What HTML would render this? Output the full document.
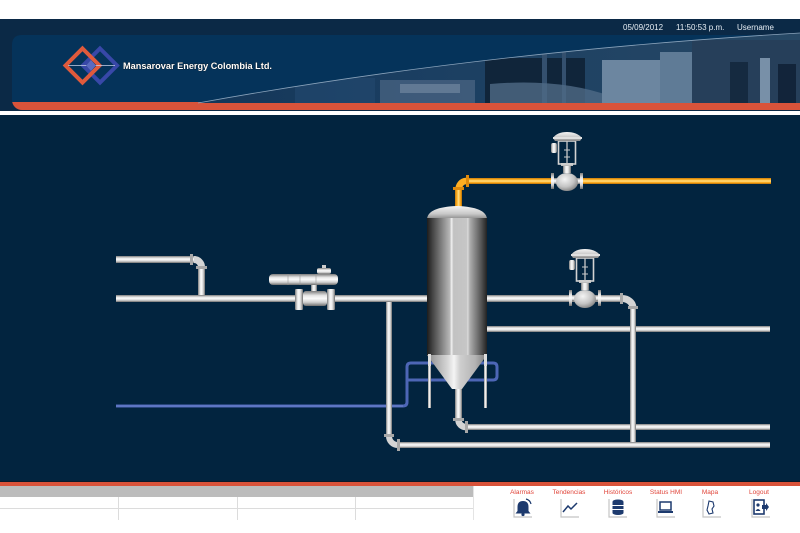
<!DOCTYPE html>
<html><head><meta charset="utf-8"><style>
html,body{margin:0;padding:0;background:#fff;width:800px;height:533px;overflow:hidden}
svg{display:block}
text{font-family:"Liberation Sans",sans-serif}
</style></head><body>
<svg width="800" height="533" viewBox="0 0 800 533" xmlns="http://www.w3.org/2000/svg">
<defs>
 <linearGradient id="hp" x1="0" y1="0" x2="0" y2="1">
  <stop offset="0" stop-color="#7c7c7c"/><stop offset="0.3" stop-color="#e6e6e6"/><stop offset="0.5" stop-color="#fbfbfb"/><stop offset="0.75" stop-color="#cfcfcf"/><stop offset="1" stop-color="#6e6e6e"/>
 </linearGradient>
 <linearGradient id="vp" x1="0" y1="0" x2="1" y2="0">
  <stop offset="0" stop-color="#7c7c7c"/><stop offset="0.3" stop-color="#e6e6e6"/><stop offset="0.5" stop-color="#fbfbfb"/><stop offset="0.75" stop-color="#cfcfcf"/><stop offset="1" stop-color="#6e6e6e"/>
 </linearGradient>
 <linearGradient id="ho" x1="0" y1="0" x2="0" y2="1">
  <stop offset="0" stop-color="#c97a08"/><stop offset="0.3" stop-color="#ffb52a"/><stop offset="0.5" stop-color="#ffe08a"/><stop offset="0.75" stop-color="#ffac1c"/><stop offset="1" stop-color="#b86e05"/>
 </linearGradient>
 <linearGradient id="vo" x1="0" y1="0" x2="1" y2="0">
  <stop offset="0" stop-color="#c97a08"/><stop offset="0.3" stop-color="#ffb52a"/><stop offset="0.5" stop-color="#ffe08a"/><stop offset="0.75" stop-color="#ffac1c"/><stop offset="1" stop-color="#b86e05"/>
 </linearGradient>
 <linearGradient id="tank" x1="0" y1="0" x2="1" y2="0">
  <stop offset="0" stop-color="#1c1c1c"/><stop offset="0.1" stop-color="#474747"/><stop offset="0.38" stop-color="#b8b8b8"/><stop offset="0.41" stop-color="#f2f2f2"/><stop offset="0.44" stop-color="#c2c2c2"/><stop offset="0.66" stop-color="#c6c6c6"/><stop offset="0.68" stop-color="#dadada"/><stop offset="0.71" stop-color="#b0b0b0"/><stop offset="0.9" stop-color="#565656"/><stop offset="1" stop-color="#222"/>
 </linearGradient>
 <linearGradient id="cone" x1="0" y1="0" x2="1" y2="0">
  <stop offset="0" stop-color="#8a8a8a"/><stop offset="0.35" stop-color="#d8d8d8"/><stop offset="0.45" stop-color="#f4f4f4"/><stop offset="0.55" stop-color="#cfcfcf"/><stop offset="0.8" stop-color="#b4b4b4"/><stop offset="1" stop-color="#7a7a7a"/>
 </linearGradient>
 <linearGradient id="dome" x1="0" y1="0" x2="0" y2="1">
  <stop offset="0" stop-color="#f4f4f4"/><stop offset="0.6" stop-color="#c8c8c8"/><stop offset="1" stop-color="#8a8a8a"/>
 </linearGradient>
 <radialGradient id="ball" cx="0.4" cy="0.35" r="0.7">
  <stop offset="0" stop-color="#f4f4f4"/><stop offset="0.6" stop-color="#c4c4c4"/><stop offset="1" stop-color="#808080"/>
 </radialGradient>
 <linearGradient id="photo" x1="0" y1="0" x2="1" y2="0">
  <stop offset="0" stop-color="#143658"/><stop offset="0.4" stop-color="#1b3f62"/><stop offset="1" stop-color="#274865"/>
 </linearGradient>
 <clipPath id="pc"><path d="M198 103 Q480 52 800 33 L800 103 Z"/></clipPath>
</defs>

<!-- header -->
<rect x="0" y="0" width="800" height="19" fill="#fff"/>
<rect x="0" y="19" width="800" height="92" fill="#0b2946"/>
<rect x="12" y="85" width="800" height="25" rx="10" fill="#d9533a"/>
<path d="M12 102 V45 Q12 35 22 35 H800 V102 Z" fill="#05335a"/>
<g clip-path="url(#pc)">
 <rect x="190" y="30" width="610" height="75" fill="url(#photo)"/>
 <rect x="380" y="80" width="95" height="23" fill="#4d6784" opacity="0.7"/>
 <rect x="400" y="84" width="60" height="9" fill="#7a8ea5" opacity="0.6"/>
 <rect x="485" y="58" width="100" height="45" fill="#10253a"/>
 <rect x="542" y="50" width="5" height="53" fill="#34506e"/>
 <rect x="562" y="48" width="4" height="55" fill="#34506e"/>
 <path d="M490 84 Q560 78 610 96 L610 103 L490 103 Z" fill="#4f6a86" opacity="0.8"/>
 <rect x="602" y="60" width="58" height="43" fill="#6c86a0"/>
 <rect x="660" y="52" width="32" height="51" fill="#5f7b96"/>
 <rect x="692" y="40" width="108" height="63" fill="#263f5a"/>
 <rect x="730" y="62" width="18" height="41" fill="#152a40"/>
 <rect x="760" y="58" width="10" height="45" fill="#7890a8"/>
 <rect x="778" y="64" width="18" height="39" fill="#12243a"/>
 <rect x="295" y="78" width="80" height="25" fill="#21466b" opacity="0.8"/>
</g>
<path d="M198 103 Q480 52 800 33" fill="none" stroke="#8aa3bb" stroke-width="0.8"/>
<text x="623" y="30" font-size="8" fill="#e6edf4">05/09/2012</text>
<text x="676" y="30" font-size="8" fill="#e6edf4">11:50:53 p.m.</text>
<text x="737" y="30" font-size="8" fill="#e6edf4">Username</text>
<!-- logo -->
<path d="M100 48.5 L117 65.5 L100 82.5 L83 65.5 Z" fill="none" stroke="#3848a8" stroke-width="4"/>
<path d="M82.5 48.5 L99.5 65.5 L82.5 82.5 L65.5 65.5 Z" fill="none" stroke="#e05a3c" stroke-width="4"/>
<line x1="68" y1="65.5" x2="115" y2="65.5" stroke="#c8d0e8" stroke-width="0.8"/>
<path d="M91 60 L96 65.5 L91 71 L86 65.5 Z" fill="#5a6ac0"/>
<text x="123" y="69" font-size="8.8" font-weight="bold" fill="#fff" stroke="#111" stroke-width="0.5" paint-order="stroke" textLength="149" lengthAdjust="spacingAndGlyphs">Mansarovar Energy Colombia Ltd.</text>

<!-- main area -->
<rect x="0" y="115" width="800" height="367" fill="#02243f"/>

<!-- blue line -->
<path d="M116 406 H403 Q407 406 407 402 V367 Q407 363 411 363 H493 Q497 363 497 367 V376 Q497 380 493 380 H408" fill="none" stroke="#4d66b6" stroke-width="3"/>
<path d="M116 406 H403" fill="none" stroke="#7a90d8" stroke-width="0.8"/>

<!-- silver pipes -->
<rect x="116" y="256" width="80" height="7" fill="url(#hp)"/>
<path d="M194 259.5 A7.5 7.5 0 0 1 201.5 267" fill="none" stroke="#d4d4d4" stroke-width="7"/>
<rect x="198" y="267" width="7" height="28" fill="url(#vp)"/>
<rect x="190" y="254" width="3" height="11" fill="#a8a8a8"/>
<rect x="196" y="266" width="11" height="3" fill="#a8a8a8"/>

<rect x="116" y="295" width="312" height="7" fill="url(#hp)"/>

<rect x="398" y="442" width="372" height="6" fill="url(#hp)"/>
<path d="M389 436 A8.5 9 0 0 0 397.5 445" fill="none" stroke="#d4d4d4" stroke-width="6"/>
<rect x="386" y="302" width="6" height="135" fill="url(#vp)"/>
<rect x="384" y="434" width="10" height="3" fill="#a8a8a8"/>
<rect x="397" y="439" width="3" height="12" fill="#a8a8a8"/>

<rect x="466" y="424" width="304" height="6" fill="url(#hp)"/>
<rect x="455" y="386" width="7" height="35" fill="url(#vp)"/>
<path d="M458.5 420 A7.5 7 0 0 0 466 427" fill="none" stroke="#d4d4d4" stroke-width="6.5"/>
<rect x="453" y="418" width="11" height="3" fill="#a8a8a8"/>
<rect x="465" y="421" width="3" height="12" fill="#a8a8a8"/>

<rect x="487" y="295" width="135" height="7" fill="url(#hp)"/>
<rect x="487" y="326" width="283" height="6" fill="url(#hp)"/>
<path d="M622 298.5 A11 9.5 0 0 1 633 308" fill="none" stroke="#d4d4d4" stroke-width="7"/>
<rect x="630" y="307" width="6" height="135" fill="url(#vp)"/>
<rect x="620" y="293" width="3" height="11" fill="#a8a8a8"/>
<rect x="628" y="306" width="10" height="3" fill="#a8a8a8"/>

<!-- orange pipe -->
<rect x="466" y="178" width="305" height="6" fill="url(#ho)"/>
<path d="M458.5 190 A7.5 9 0 0 1 466 181" fill="none" stroke="#ffae22" stroke-width="6.5"/>
<rect x="455" y="189" width="7" height="19" fill="url(#vo)"/>
<rect x="453" y="187" width="11" height="3" fill="#e08a0c"/>
<rect x="466" y="175" width="3" height="12" fill="#e08a0c"/>

<!-- tank -->
<rect x="428" y="354" width="3" height="54" fill="url(#vp)"/>
<rect x="484" y="354" width="3" height="54" fill="url(#vp)"/>
<path d="M427 219 Q428 207 457 206 Q486 207 487 219 Z" fill="url(#dome)"/>
<rect x="427" y="218" width="60" height="138" fill="url(#tank)"/>
<path d="M427 355 H487 L462 389 H452 Z" fill="url(#cone)"/>
<rect x="428" y="354" width="3" height="12" fill="#ddd"/>
<rect x="484" y="354" width="3" height="12" fill="#ddd"/>

<!-- ball valve with actuator -->
<g>
 <rect x="269" y="274" width="69" height="11" rx="4" fill="url(#hp)"/>
 <line x1="288" y1="274" x2="288" y2="285" stroke="#999" stroke-width="0.6"/>
 <line x1="300" y1="274" x2="300" y2="285" stroke="#999" stroke-width="0.6"/>
 <line x1="316" y1="274" x2="316" y2="285" stroke="#999" stroke-width="0.6"/>
 <rect x="317" y="268" width="14" height="6" rx="2" fill="url(#hp)"/>
 <rect x="322" y="265" width="4" height="3" fill="#ccc"/>
 <rect x="311" y="285" width="6" height="7" fill="url(#vp)"/>
 <rect x="303" y="291" width="24" height="15" rx="3" fill="url(#hp)"/>
 <rect x="295" y="289" width="8" height="21" rx="1" fill="url(#vp)"/>
 <rect x="327" y="289" width="8" height="21" rx="1" fill="url(#vp)"/>
</g>

<!-- control valve top -->
<g transform="translate(567,181)">
 <rect x="-16" y="-8" width="3" height="16" fill="url(#hp)"/>
 <rect x="13" y="-8" width="3" height="16" fill="url(#hp)"/>
 <rect x="-13" y="-3" width="26" height="6" fill="url(#hp)"/>
 <ellipse cx="0" cy="1" rx="11" ry="9" fill="url(#ball)"/>
 <rect x="-4" y="-16" width="8" height="8" fill="url(#vp)"/>
 <rect x="-6" y="-18" width="12" height="3" fill="#bdbdbd"/>
 <rect x="-8.5" y="-40" width="17" height="23" fill="none" stroke="#d2d2d2" stroke-width="1.6"/>
 <line x1="0" y1="-40" x2="0" y2="-17" stroke="#c8c8c8" stroke-width="1.3"/>
 <line x1="-3" y1="-31" x2="3" y2="-31" stroke="#c8c8c8" stroke-width="1"/>
 <line x1="-3" y1="-24" x2="3" y2="-24" stroke="#c8c8c8" stroke-width="1"/>
 <path d="M-14 -43 Q-10 -49 0 -49 Q10 -49 15 -43 L13 -40 H-12 Z" fill="url(#dome)"/>
 <rect x="-14" y="-44" width="29" height="2" fill="#e0e0e0"/>
 <rect x="-16" y="-38" width="6" height="10" rx="2" fill="url(#vp)"/>
</g>

<!-- control valve right -->
<g transform="translate(585,298)">
 <rect x="-16" y="-8" width="3" height="16" fill="url(#hp)"/>
 <rect x="13" y="-8" width="3" height="16" fill="url(#hp)"/>
 <rect x="-13" y="-3" width="26" height="6" fill="url(#hp)"/>
 <ellipse cx="0" cy="1" rx="11" ry="9" fill="url(#ball)"/>
 <rect x="-4" y="-16" width="8" height="8" fill="url(#vp)"/>
 <rect x="-6" y="-18" width="12" height="3" fill="#bdbdbd"/>
 <rect x="-8.5" y="-40" width="17" height="23" fill="none" stroke="#d2d2d2" stroke-width="1.6"/>
 <line x1="0" y1="-40" x2="0" y2="-17" stroke="#c8c8c8" stroke-width="1.3"/>
 <line x1="-3" y1="-31" x2="3" y2="-31" stroke="#c8c8c8" stroke-width="1"/>
 <line x1="-3" y1="-24" x2="3" y2="-24" stroke="#c8c8c8" stroke-width="1"/>
 <path d="M-14 -43 Q-10 -49 0 -49 Q10 -49 15 -43 L13 -40 H-12 Z" fill="url(#dome)"/>
 <rect x="-14" y="-44" width="29" height="2" fill="#e0e0e0"/>
 <rect x="-16" y="-38" width="6" height="10" rx="2" fill="url(#vp)"/>
</g>

<!-- footer -->
<rect x="0" y="481" width="800" height="1" fill="#0a1a2a"/>
<rect x="0" y="482" width="800" height="4" fill="#d9533a"/>
<rect x="0" y="486" width="800" height="47" fill="#fff"/>
<rect x="0" y="486" width="473" height="11" fill="#bcbcbc"/>
<rect x="0" y="508" width="473" height="1" fill="#dcdcdc"/>
<rect x="118" y="497" width="1" height="23" fill="#dcdcdc"/>
<rect x="237" y="497" width="1" height="23" fill="#dcdcdc"/>
<rect x="355" y="497" width="1" height="23" fill="#dcdcdc"/>
<rect x="473" y="486" width="1" height="34" fill="#e4e4e4"/>

<g font-size="6.5" fill="#e0453a" text-anchor="middle">
 <text x="522" y="494">Alarmas</text>
 <text x="569" y="494">Tendencias</text>
 <text x="618" y="494">Históricos</text>
 <text x="666" y="494">Status HMI</text>
 <text x="710" y="494">Mapa</text>
 <text x="759" y="494">Logout</text>
</g>
<!-- icon frames -->
<g fill="none" stroke="#c4c4c4" stroke-width="1.2">
 <path d="M514 499 V517 H532"/>
 <path d="M561 499 V517 H579"/>
 <path d="M609 499 V517 H627"/>
 <path d="M657 499 V517 H675"/>
 <path d="M703 499 V517 H721"/>
 <path d="M752 499 V517 H770"/>
</g>
<g fill="#1d3a6e">
 <path d="M523 501 Q517.5 501 517.5 507 V511 L515.5 513.5 H530.5 L528.5 511 V507 Q528.5 501 523 501 Z"/>
 <circle cx="523" cy="514.5" r="1.6"/>
 <path d="M526 499 Q530 500 531 504" fill="none" stroke="#1d3a6e" stroke-width="1.2"/>
 <path d="M563 512 L568 506 L571 509 L577 503" fill="none" stroke="#1d3a6e" stroke-width="1.5"/>
 <ellipse cx="618" cy="501.5" rx="5.5" ry="2"/>
 <rect x="612.5" y="502" width="11" height="3"/>
 <rect x="612.5" y="506" width="11" height="3"/>
 <rect x="612.5" y="510" width="11" height="3"/>
 <ellipse cx="618" cy="513" rx="5.5" ry="2"/>
 <rect x="660" y="502" width="11" height="8" fill="none" stroke="#1d3a6e" stroke-width="1.5"/>
 <rect x="658" y="511" width="15" height="2"/>
 <path d="M709 501 L713 502 L714 506 L712 509 L713 513 L709 514 L707 510 L708 506 Z" fill="none" stroke="#1d3a6e" stroke-width="1.1"/>
 <rect x="754" y="500" width="10" height="14" fill="none" stroke="#1d3a6e" stroke-width="1.6"/>
 <circle cx="758" cy="505" r="1.6"/>
 <path d="M755.5 511 Q758 507 760.5 511 Z"/>
 <path d="M762 505 H766 V503 L769 507 L766 511 V509 H762 Z"/>
</g>
</svg>
</body></html>
